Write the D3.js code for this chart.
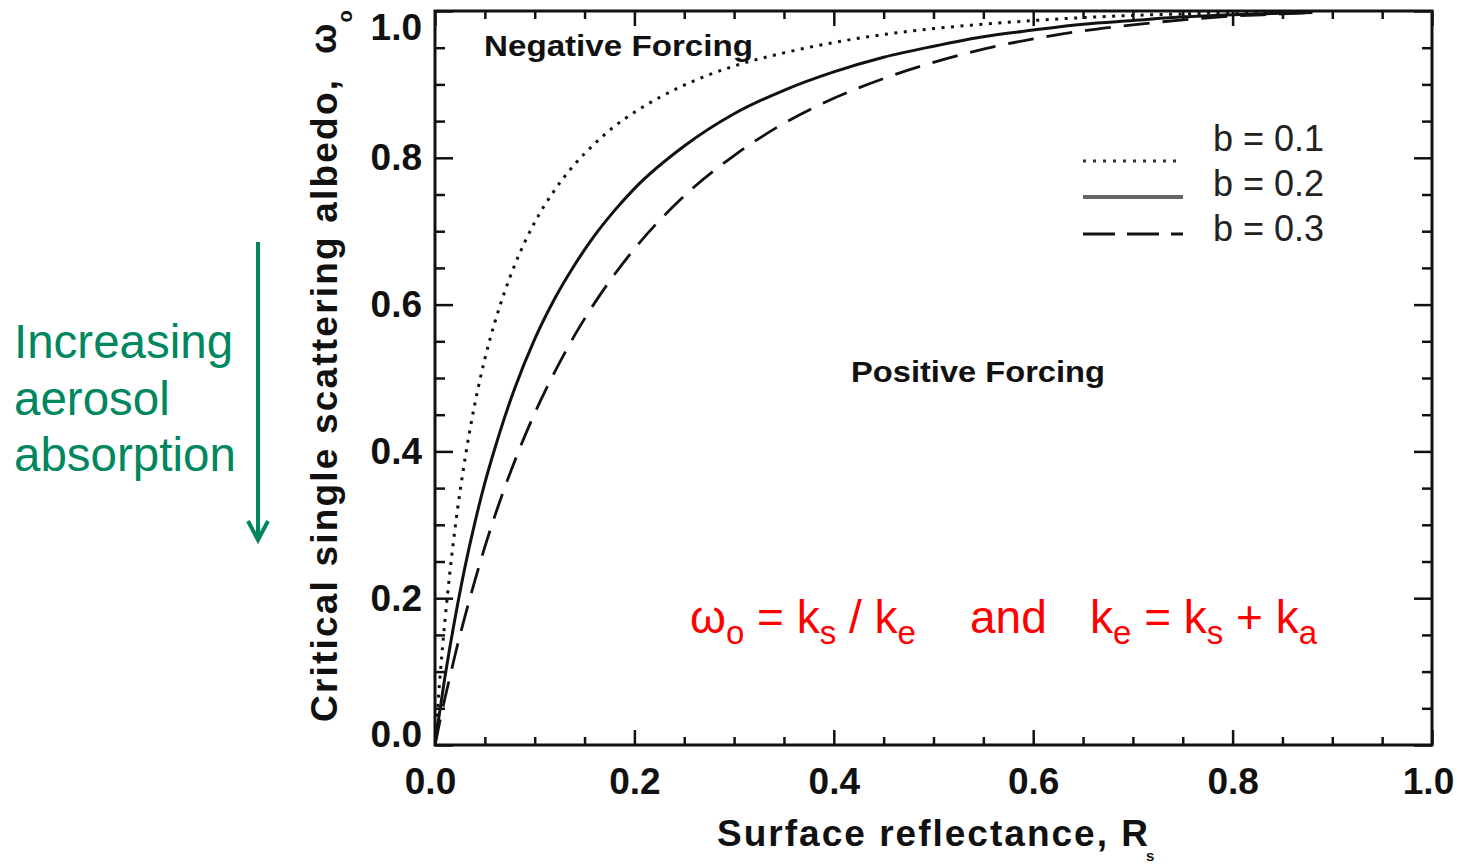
<!DOCTYPE html>
<html>
<head>
<meta charset="utf-8">
<script src="https://cdn.jsdelivr.net/npm/d3@7/dist/d3.min.js"></script>
<style>
  html, body { margin: 0; padding: 0; background: #fff; }
  svg { display: block; }
  .tick text { font-family: "Liberation Sans", Arial, sans-serif; font-weight: bold; font-size: 37px; fill: #111; }
</style>
</head>
<body>
<svg id="chart" width="1460" height="867"></svg>
<script>
// Surface reflectance R_s (x) and critical single scattering albedo for three b values
const reflectance = [0, 0.002, 0.005, 0.01, 0.015, 0.02, 0.03, 0.04, 0.05, 0.06, 0.07, 0.08,
  0.10, 0.12, 0.14, 0.16, 0.18, 0.20, 0.25, 0.30, 0.35, 0.40, 0.45, 0.50, 0.55, 0.60,
  0.65, 0.70, 0.75, 0.80, 0.85, 0.88];
const albedoB01 = [0, 0.039, 0.092, 0.170, 0.236, 0.294, 0.389, 0.465, 0.526, 0.576, 0.618, 0.654,
  0.712, 0.756, 0.791, 0.819, 0.843, 0.862, 0.899, 0.925, 0.943, 0.957, 0.968, 0.976, 0.982, 0.987,
  0.991, 0.994, 0.996, 0.998, 0.999, 0.999];
const albedoB02 = [0, 0.020, 0.048, 0.093, 0.134, 0.172, 0.242, 0.303, 0.357, 0.404, 0.447, 0.486,
  0.553, 0.608, 0.654, 0.694, 0.728, 0.758, 0.816, 0.860, 0.892, 0.917, 0.937, 0.952, 0.965, 0.974,
  0.982, 0.987, 0.992, 0.995, 0.997, 0.998];
const albedoB03 = [0, 0.013, 0.033, 0.064, 0.093, 0.122, 0.175, 0.224, 0.270, 0.312, 0.351, 0.387,
  0.452, 0.508, 0.558, 0.602, 0.641, 0.676, 0.748, 0.803, 0.847, 0.881, 0.908, 0.930, 0.948, 0.962,
  0.973, 0.981, 0.988, 0.993, 0.996, 0.998];

const seriesNames = ["b = 0.1", "b = 0.2", "b = 0.3"];
const majorTicks = [0, 0.2, 0.4, 0.6, 0.8, 1.0];
const minorTicks = [0.05, 0.1, 0.15, 0.25, 0.3, 0.35, 0.45, 0.5, 0.55, 0.65, 0.7, 0.75, 0.85, 0.9, 0.95];

const svg = d3.select("#chart");
const plotLeft = 435, plotRight = 1432, plotTop = 11, plotBottom = 745;

const x = d3.scaleLinear().domain([0, 1]).range([plotLeft, plotRight]);
const y = d3.scaleLinear().domain([0, 1]).range([plotBottom, plotTop]);
const fmt = d3.format(".1f");

// Axes with inward ticks on all four sides
function styleAxis(g) {
  g.select(".domain").remove();
  g.selectAll(".tick line").attr("stroke", "#111").attr("stroke-width", 2.5);
}
const xAxisG = svg.append("g").attr("transform", `translate(0,${plotBottom})`)
  .call(d3.axisBottom(x).tickValues(majorTicks).tickFormat(fmt).tickSizeInner(-15).tickSizeOuter(0).tickPadding(23))
  .call(styleAxis);
// end labels sit slightly inside their ticks
xAxisG.selectAll(".tick text").attr("dx", d => d === 0 ? -5 : d === 1 ? -4 : 0);
svg.append("g").attr("transform", `translate(0,${plotBottom})`)
  .call(d3.axisBottom(x).tickValues(minorTicks).tickFormat("").tickSizeInner(-8).tickSizeOuter(0))
  .call(styleAxis);
svg.append("g").attr("transform", `translate(0,${plotTop})`)
  .call(d3.axisTop(x).tickValues(majorTicks).tickFormat("").tickSizeInner(-15).tickSizeOuter(0))
  .call(styleAxis);
svg.append("g").attr("transform", `translate(0,${plotTop})`)
  .call(d3.axisTop(x).tickValues(minorTicks).tickFormat("").tickSizeInner(-8).tickSizeOuter(0))
  .call(styleAxis);
const yAxisG = svg.append("g").attr("transform", `translate(${plotLeft},0)`)
  .call(d3.axisLeft(y).tickValues(majorTicks).tickFormat(fmt).tickSizeInner(-18).tickSizeOuter(0).tickPadding(13))
  .call(styleAxis);
yAxisG.selectAll(".tick text").attr("y", d => d === 1 ? 17 : d === 0 ? -10 : 0);
svg.append("g").attr("transform", `translate(${plotLeft},0)`)
  .call(d3.axisLeft(y).tickValues(minorTicks).tickFormat("").tickSizeInner(-10).tickSizeOuter(0))
  .call(styleAxis);
svg.append("g").attr("transform", `translate(${plotRight},0)`)
  .call(d3.axisRight(y).tickValues(majorTicks).tickFormat("").tickSizeInner(-18).tickSizeOuter(0))
  .call(styleAxis);
svg.append("g").attr("transform", `translate(${plotRight},0)`)
  .call(d3.axisRight(y).tickValues(minorTicks).tickFormat("").tickSizeInner(-10).tickSizeOuter(0))
  .call(styleAxis);

// Plot frame
svg.append("rect")
  .attr("x", plotLeft).attr("y", plotTop)
  .attr("width", plotRight - plotLeft).attr("height", plotBottom - plotTop)
  .attr("fill", "none").attr("stroke", "#111").attr("stroke-width", 3);

// Curves
svg.append("clipPath").attr("id", "plotClip")
  .append("rect").attr("x", plotLeft).attr("y", plotTop)
  .attr("width", plotRight - plotLeft).attr("height", plotBottom - plotTop);

const series = [
  { name: seriesNames[0], values: albedoB01, dash: "3,6.5", width: 3 },
  { name: seriesNames[1], values: albedoB02, dash: null, width: 3 },
  { name: seriesNames[2], values: albedoB03, dash: "26,13", width: 2.8 }
];

const line = d3.line()
  .x((d, i) => x(reflectance[i]))
  .y(d => y(d))
  .curve(d3.curveMonotoneX);

svg.append("g").attr("clip-path", "url(#plotClip)")
  .selectAll("path").data(series).join("path")
  .attr("d", d => line(d.values))
  .attr("fill", "none")
  .attr("stroke", "#111")
  .attr("stroke-width", d => d.width)
  .attr("stroke-dasharray", d => d.dash);

// Legend
const legend = svg.append("g");
const legendRows = [
  { yLine: 161, yText: 151, dash: "3,7", color: "#333", width: 3 },
  { yLine: 197, yText: 196, dash: null, color: "#666", width: 4 },
  { yLine: 234, yText: 241, dash: "32,12", color: "#111", width: 3 }
];
legendRows.forEach((r, i) => {
  legend.append("line")
    .attr("x1", 1083).attr("x2", 1183)
    .attr("y1", r.yLine).attr("y2", r.yLine)
    .attr("stroke", r.color).attr("stroke-width", r.width)
    .attr("stroke-dasharray", r.dash);
  legend.append("text")
    .attr("x", 1213).attr("y", r.yText)
    .attr("font-family", "Liberation Sans, Arial, sans-serif")
    .attr("font-size", 36).attr("fill", "#222")
    .text(seriesNames[i]);
});

// Region labels
svg.append("text")
  .attr("x", 484).attr("y", 56)
  .attr("font-family", "Liberation Sans, Arial, sans-serif")
  .attr("font-weight", "bold").attr("font-size", 30).attr("fill", "#111")
  .attr("textLength", 269).attr("lengthAdjust", "spacingAndGlyphs")
  .text("Negative Forcing");
svg.append("text")
  .attr("x", 851).attr("y", 382)
  .attr("font-family", "Liberation Sans, Arial, sans-serif")
  .attr("font-weight", "bold").attr("font-size", 30).attr("fill", "#111")
  .attr("textLength", 254).attr("lengthAdjust", "spacingAndGlyphs")
  .text("Positive Forcing");

// Axis titles
const xTitle = svg.append("text")
  .attr("x", 717).attr("y", 846)
  .attr("font-family", "Liberation Sans, Arial, sans-serif")
  .attr("font-weight", "bold").attr("font-size", 37).attr("fill", "#111");
xTitle.append("tspan").attr("textLength", 431).attr("lengthAdjust", "spacing").text("Surface reflectance, R");
xTitle.append("tspan").attr("font-size", 15).attr("dx", -4).attr("dy", 15).text("s");

svg.append("text")
  .attr("transform", "translate(337,722) rotate(-90)")
  .attr("font-family", "Liberation Sans, Arial, sans-serif")
  .attr("font-weight", "bold").attr("font-size", 37).attr("fill", "#111")
  .attr("textLength", 642).attr("lengthAdjust", "spacing")
  .text("Critical single scattering albedo,");
const omegaTitle = svg.append("text")
  .attr("transform", "translate(336,54) rotate(-90)")
  .attr("font-family", "Liberation Sans, Arial, sans-serif")
  .attr("font-weight", "bold").attr("font-size", 36).attr("fill", "#111");
omegaTitle.append("tspan").text("ω");
omegaTitle.append("tspan").attr("font-size", 20).attr("dx", 1).attr("dy", 16).text("o");

// Red relation
const red = "#ff0000";
const eqFont = "Liberation Sans, Arial, sans-serif";
function eq(xPos, parts) {
  const t = svg.append("text").attr("x", xPos).attr("y", 633)
    .attr("font-family", eqFont).attr("font-size", 46).attr("fill", red)
    .attr("xml:space", "preserve");
  let lowered = false;
  parts.forEach(p => {
    if (p.sub) {
      t.append("tspan").attr("font-size", 33).attr("dy", lowered ? 0 : 11).text(p.sub);
      lowered = true;
    } else {
      t.append("tspan").attr("dy", lowered ? -11 : 0).text(p.t);
      lowered = false;
    }
  });
}
eq(690, [{ t: "ω" }, { sub: "o" }, { t: " = k" }, { sub: "s" }, { t: " / k" }, { sub: "e" }]);
svg.append("text").attr("x", 970).attr("y", 633)
  .attr("font-family", eqFont).attr("font-size", 46).attr("fill", red).text("and");
eq(1090, [{ t: "k" }, { sub: "e" }, { t: " = k" }, { sub: "s" }, { t: " + k" }, { sub: "a" }]);

// Green annotation with arrow
const green = "#00875f";
["Increasing", "aerosol", "absorption"].forEach((s, i) => {
  svg.append("text")
    .attr("x", 14).attr("y", [358, 415, 471][i])
    .attr("font-family", "Liberation Sans, Arial, sans-serif")
    .attr("font-size", 47.5).attr("fill", green)
    .text(s);
});
svg.append("line").attr("x1", 258).attr("x2", 258).attr("y1", 242).attr("y2", 540)
  .attr("stroke", green).attr("stroke-width", 4);
svg.append("path").attr("d", "M248,521 L258,540 L268,521")
  .attr("fill", "none").attr("stroke", green).attr("stroke-width", 4)
  .attr("stroke-linejoin", "miter");
</script>
</body>
</html>
